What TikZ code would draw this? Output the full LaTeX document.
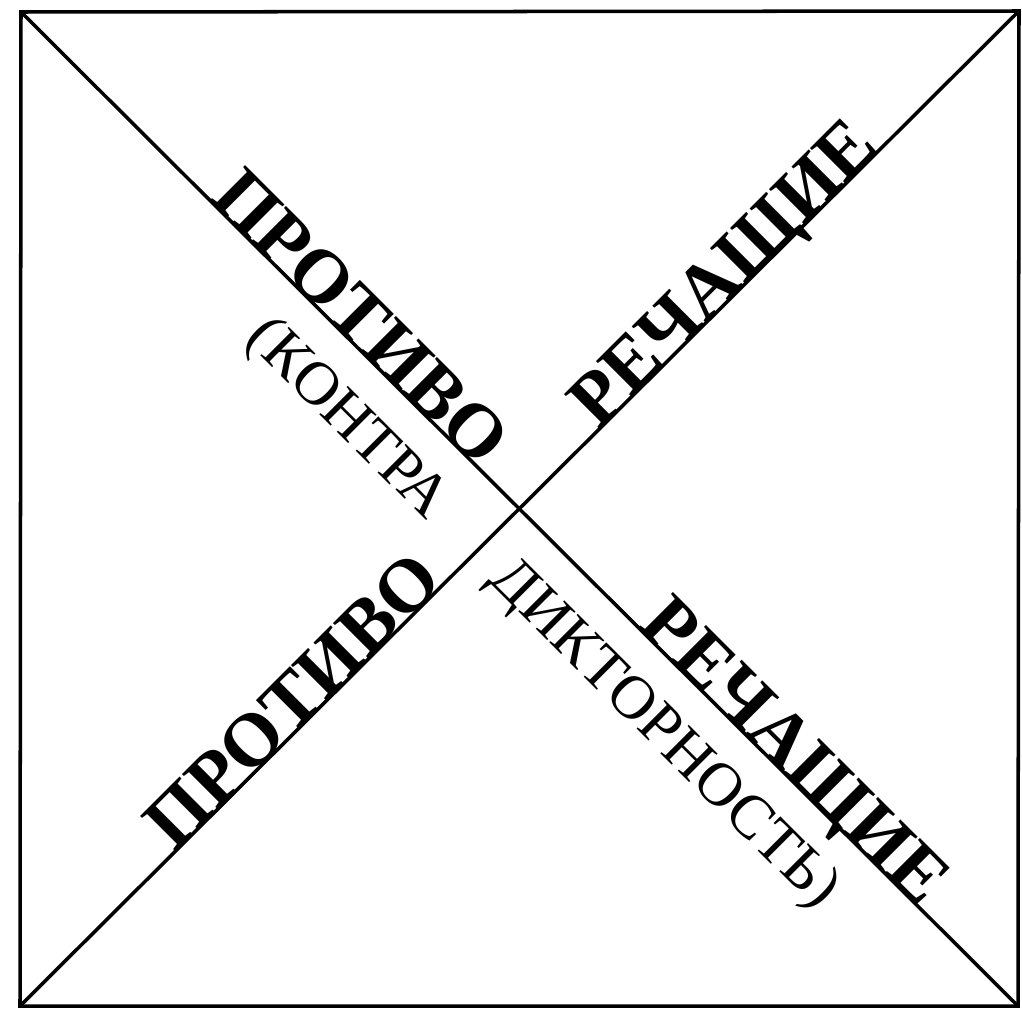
\documentclass[tikz,border=0pt]{standalone}
\usepackage{fontspec}
\setmainfont{Liberation Serif}
\usetikzlibrary{calc}

\begin{document}
\begin{tikzpicture}[x=0.02cm, y=-0.02cm,
  bigword/.style={font=\fontsize{43}{48}\selectfont\bfseries, inner sep=0pt, anchor=base},
  smallword/.style={font=\fontsize{35}{40}\selectfont, inner sep=0pt},
  frameline/.style={line width=2pt}]
\useasboundingbox (0,0) rectangle (1022,1014);
\coordinate (tl) at (21,12);
\coordinate (tr) at (1019,11);
\coordinate (br) at (1018,1006);
\coordinate (bl) at (20,1006);
\draw[frameline] (tl) -- (tr) -- (br) -- (bl) -- cycle;
\draw[frameline] (tl) -- (br);
\draw[frameline] (bl) -- (tr);
\node[bigword, rotate=-45] (pr1) at ($(tl)!0.324!(br)$) {ПРОТИВО};
\node[bigword, rotate=45] (re1) at ($(bl)!0.72!(tr)$) {РЕЧАЩИЕ};
\node[bigword, rotate=45] (pr2) at ($(bl)!0.29!(tr)$) {ПРОТИВО};
\node[bigword, rotate=-45] (re2) at ($(tl)!0.76!(br)$) {РЕЧАЩИЕ};
\node[smallword, rotate=-45] (kon) at (346,420) {(КОНТРА};
\node[smallword, rotate=-45] (dik) at (663,735) {ДИКТОРНОСТЬ)};
\end{tikzpicture}
\end{document}
